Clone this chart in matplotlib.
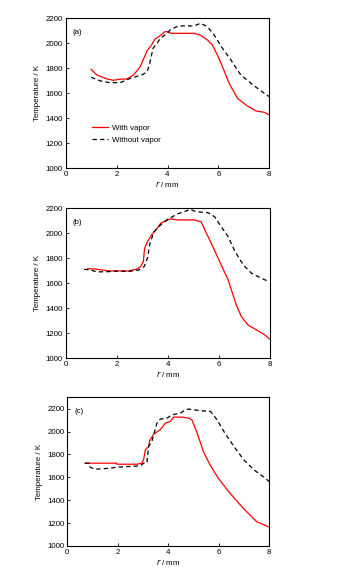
import matplotlib
matplotlib.use("Agg")
import matplotlib.pyplot as plt

plt.rcParams['font.family'] = ['Liberation Sans', 'DejaVu Sans']

# Panel (a)
a_with_r = [1.0, 1.22, 1.62, 1.88, 2.08, 2.41, 2.67, 2.93, 3.04, 3.2, 3.39, 3.5, 3.7, 3.9, 4.0, 4.12, 5.04, 5.3, 5.57, 5.76, 5.96, 6.16, 6.42, 6.75, 7.08, 7.47, 7.8, 8.0]
a_with_T = [1792, 1747, 1715, 1704, 1712, 1715, 1747, 1813, 1867, 1941, 1992, 2032, 2059, 2093, 2093, 2080, 2080, 2064, 2027, 1987, 1907, 1813, 1680, 1560, 1507, 1459, 1448, 1427]
a_wo_r = [1.0, 1.36, 1.75, 2.14, 2.54, 3.0, 3.2, 3.29, 3.43, 3.59, 3.72, 3.99, 4.12, 4.45, 5.04, 5.3, 5.57, 5.83, 6.16, 6.49, 6.88, 7.41, 7.8, 8.0]
a_wo_T = [1728, 1699, 1685, 1685, 1720, 1747, 1773, 1827, 1960, 2000, 2040, 2080, 2112, 2139, 2139, 2160, 2133, 2067, 1960, 1867, 1747, 1659, 1600, 1573]

# Panel (b)
b_with_r = [0.86, 1.09, 1.42, 1.68, 2.14, 2.47, 2.8, 2.93, 3.04, 3.07, 3.09, 3.2, 3.36, 3.53, 3.72, 3.99, 4.12, 4.38, 4.91, 5.04, 5.3, 5.5, 5.76, 6.03, 6.36, 6.68, 6.88, 7.14, 7.47, 7.8, 8.0]
b_with_T = [1717, 1715, 1707, 1699, 1699, 1699, 1715, 1733, 1773, 1840, 1880, 1933, 1987, 2027, 2080, 2107, 2115, 2107, 2107, 2107, 2093, 2005, 1893, 1773, 1627, 1427, 1333, 1267, 1227, 1187, 1152]
b_wo_r = [0.72, 0.96, 1.22, 1.62, 2.14, 2.41, 2.87, 3.07, 3.2, 3.3, 3.46, 3.72, 3.99, 4.38, 4.64, 4.88, 5.1, 5.57, 5.83, 6.09, 6.36, 6.62, 6.95, 7.28, 7.54, 7.87]
b_wo_T = [1712, 1707, 1691, 1693, 1699, 1693, 1707, 1733, 1800, 1920, 2013, 2067, 2112, 2155, 2173, 2192, 2173, 2165, 2133, 2053, 1973, 1859, 1747, 1680, 1653, 1621]

# Panel (c)
c_with_r = [0.7, 1.96, 1.96, 2.75, 2.95, 3.02, 3.09, 3.22, 3.26, 3.42, 3.68, 3.88, 4.08, 4.21, 4.54, 4.81, 4.93, 5.12, 5.39, 5.65, 5.98, 6.44, 6.97, 7.5, 8.0]
c_with_T = [1724, 1724, 1715, 1715, 1724, 1753, 1841, 1870, 1920, 1978, 2016, 2074, 2089, 2127, 2127, 2118, 2104, 2001, 1826, 1710, 1593, 1462, 1330, 1213, 1165]
c_wo_r = [0.7, 0.87, 0.9, 1.1, 1.7, 1.96, 2.89, 3.02, 3.15, 3.22, 3.35, 3.55, 3.68, 3.95, 4.15, 4.48, 4.68, 4.81, 5.27, 5.67, 5.93, 6.2, 6.6, 6.99, 7.39, 7.79, 7.99]
c_wo_T = [1724, 1724, 1689, 1671, 1680, 1689, 1701, 1724, 1724, 1870, 1914, 2074, 2109, 2118, 2147, 2162, 2191, 2197, 2183, 2177, 2104, 2001, 1870, 1753, 1666, 1601, 1564]

panel_labels = ["(a)", "(b)", "(c)"]
yticks = [1000, 1200, 1400, 1600, 1800, 2000, 2200]
xticks = [0, 2, 4, 6, 8]
ylims = [(1000, 2200), (1000, 2200), (1000, 2300)]

W, H = 358, 574
fig = plt.figure(figsize=(W / 100, H / 100), dpi=100)

# axes boxes in pixels: left, right, top, bottom
boxes = [(65.7, 269.3, 18.3, 168.3), (65.7, 270.0, 208.3, 358.3), (67.3, 269.3, 397.3, 546.0)]
data = [(a_with_r, a_with_T, a_wo_r, a_wo_T),
        (b_with_r, b_with_T, b_wo_r, b_wo_T),
        (c_with_r, c_with_T, c_wo_r, c_wo_T)]

fs = 5.7
for i, (box, d) in enumerate(zip(boxes, data)):
    l, r, t, b = box
    ax = fig.add_axes([l / W, 1 - b / H, (r - l) / W, (b - t) / H])
    wr, wT, nr, nT = d
    ax.plot(wr, wT, color='red', lw=0.9, label='With vapor')
    ax.plot(nr, nT, color='black', lw=0.9, ls=(0, (3.5, 2.5)), label='Without vapor')
    ax.set_xlim(0, 8)
    ax.set_ylim(*ylims[i])
    ax.set_xticks(xticks)
    ax.set_yticks(yticks)
    ax.tick_params(direction='in', length=2.5, width=0.6, labelsize=fs, pad=2)
    for s in ax.spines.values():
        s.set_linewidth(0.8)
    ax.set_ylabel('Temperature / K', fontsize=fs, labelpad=3)
    ax.set_xlabel(r'$\it{r}$ / mm', fontsize=fs, labelpad=1)
    ax.text(0.035, 0.93, panel_labels[i], transform=ax.transAxes, fontsize=fs,
            ha='left', va='top')
    if i == 0:
        ax.legend(loc='lower left', bbox_to_anchor=(0.115, 0.14), frameon=False,
                  fontsize=fs, handlelength=2.0, handletextpad=0.5,
                  labelspacing=0.55, borderaxespad=0)

fig.savefig('out.png', dpi=100)
